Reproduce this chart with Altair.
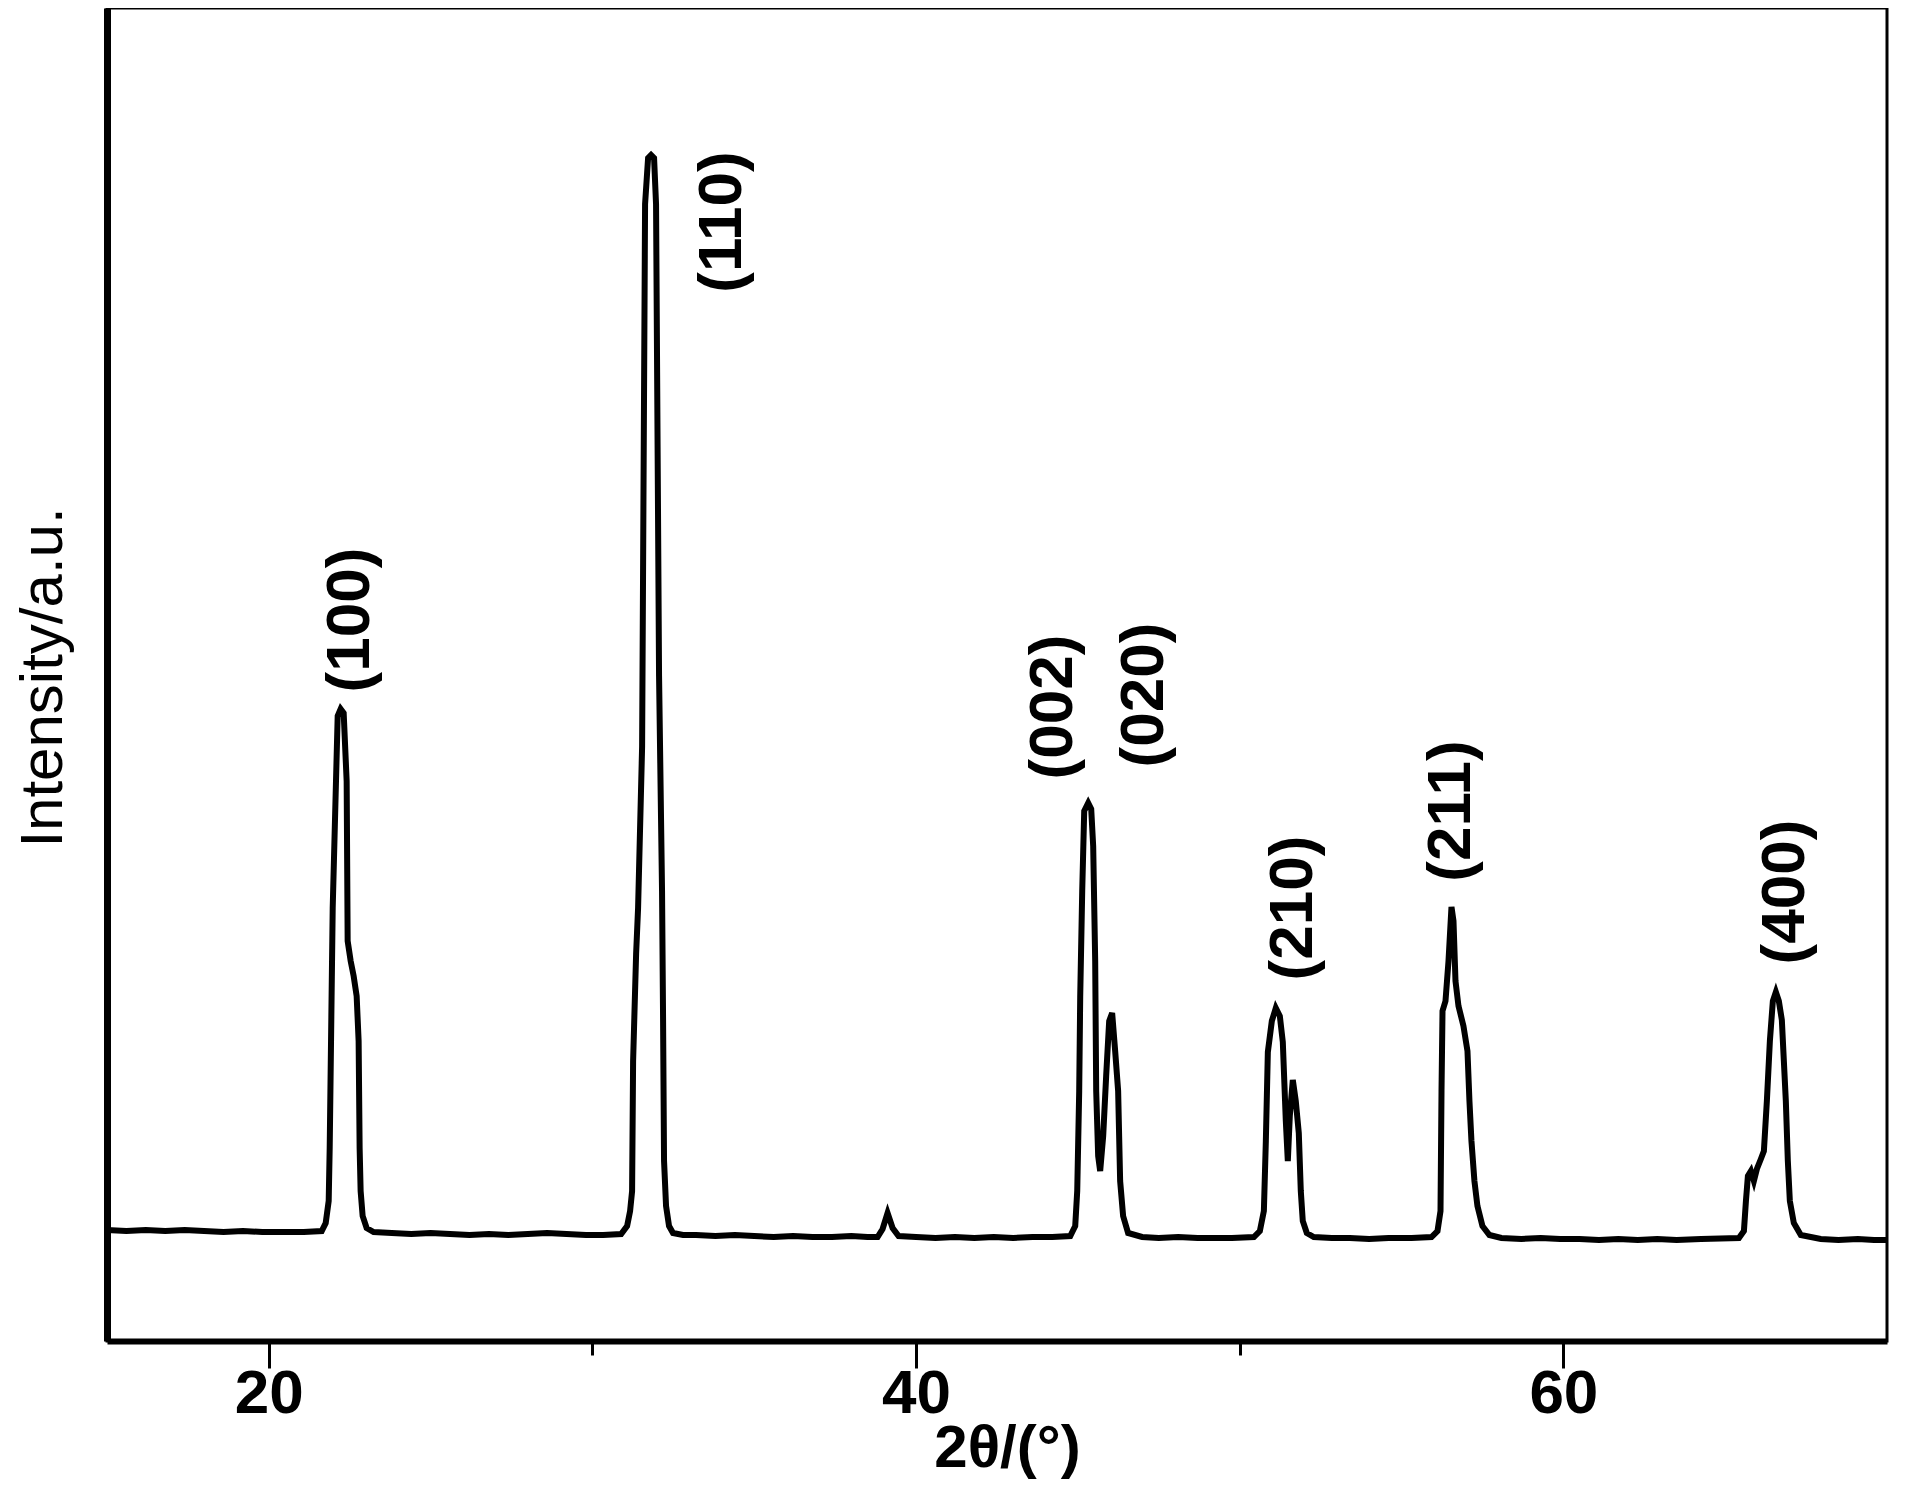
import altair as alt
import pandas as pd

two_theta = [
    15.00, 15.60, 16.20, 16.80, 17.40, 18.00, 18.60, 19.20, 19.80, 20.40, 21.079,
    21.634, 21.758, 21.850, 21.881, 21.974, 22.128, 22.220, 22.313, 22.405, 22.436,
    22.529, 22.621, 22.714, 22.775, 22.806, 22.837, 22.899, 23.022, 23.238,
    23.80, 24.40, 25.00, 25.60, 26.20, 26.80, 27.40, 28.00, 28.60, 29.20, 29.80, 30.331,
    30.886, 31.071, 31.163, 31.225, 31.256, 31.349, 31.410, 31.534, 31.626, 31.719,
    31.811, 31.904, 31.965, 32.058, 32.150, 32.181, 32.212, 32.274, 32.366, 32.489, 32.798,
    33.20, 33.80, 34.40, 35.00, 35.60, 36.20, 36.80, 37.40, 38.00, 38.50, 38.811,
    38.965, 39.119, 39.274, 39.459,
    40.00, 40.60, 41.20, 41.80, 42.40, 43.00, 43.60, 44.208,
    44.763, 44.917, 44.979, 45.040, 45.071, 45.133, 45.195, 45.318, 45.411, 45.472,
    45.534, 45.565, 45.626, 45.688, 45.781, 45.873, 45.966, 46.058, 46.151, 46.243,
    46.305, 46.397, 46.551, 46.983,
    47.50, 48.10, 48.70, 49.30, 49.759,
    50.437, 50.622, 50.746, 50.807, 50.869, 50.992, 51.115, 51.239, 51.331, 51.424,
    51.486, 51.547, 51.640, 51.732, 51.825, 51.887, 51.948, 52.072, 52.288, 52.843,
    53.40, 54.00, 54.60, 55.310,
    55.926, 56.111, 56.204, 56.235, 56.266, 56.358, 56.451, 56.543, 56.605, 56.667,
    56.759, 56.913, 57.037, 57.098, 57.160, 57.252, 57.345, 57.499, 57.715, 58.085,
    58.70, 59.30, 59.90, 60.50, 61.10, 61.70, 62.30, 62.90, 63.50, 64.253,
    65.425, 65.579, 65.641, 65.702, 65.795, 65.887, 65.980, 66.103, 66.196, 66.288,
    66.381, 66.473, 66.566, 66.658, 66.751, 66.813, 66.874, 66.936, 66.998, 67.121,
    67.337, 67.953,
    68.50, 69.10, 69.60, 70.00,
]
intensity = [
    111, 110, 111, 110, 111, 110, 109, 110, 109, 109, 109,
    110, 118, 140, 193, 433, 625, 632, 628, 560, 400,
    380, 365, 345, 300, 193, 150, 125, 113, 109,
    108, 107, 108, 107, 106, 107, 106, 107, 108, 107, 106, 106,
    107, 115, 130, 150, 280, 387, 433, 594, 1137, 1183,
    1186, 1183, 1137, 665, 450, 326, 180, 135, 115, 108, 106,
    106, 105, 106, 105, 104, 105, 104, 104, 105, 104, 104,
    112, 128, 113, 105,
    104, 103, 104, 103, 104, 103, 104, 104,
    105, 115, 150, 250, 344, 450, 530, 538, 532, 495,
    380, 250, 185, 170, 205, 265, 320, 328, 290, 250,
    160, 125, 108, 104,
    103, 104, 103, 103, 103,
    104, 110, 130, 200, 289, 320, 333, 325, 299, 220,
    180, 225, 261, 240, 208, 150, 120, 108, 104, 103,
    103, 102, 103, 103,
    104, 110, 130, 250, 330, 340, 380, 434, 420, 360,
    335, 315, 290, 240, 200, 160, 135, 115, 106, 103,
    102, 103, 102, 102, 101, 102, 101, 102, 101, 102,
    103, 110, 140, 165, 170, 160, 172, 182, 190, 240,
    300, 340, 349, 340, 321, 280, 240, 180, 140, 118,
    106, 102,
    101, 102, 101, 101,
]

peak_labels = ["(100)", "(110)", "(002)", "(020)", "(210)", "(211)", "(400)"]
label_theta = [22.51, 34.00, 44.24, 47.05, 51.64, 56.54, 66.84]
label_intensity = [721, 1119, 634, 646, 433, 530, 449]

major_ticks = [20, 40, 60]
minor_ticks = [30, 50]

df = pd.DataFrame({"two_theta": two_theta, "intensity": intensity})
labels_df = pd.DataFrame({"label": peak_labels, "two_theta": label_theta,
                          "intensity": label_intensity})

FONT = "Liberation Sans"
x_scale = alt.Scale(domain=[15, 70], nice=False, zero=False)
y_scale = alt.Scale(domain=[0, 1333], nice=False, zero=False)

line = alt.Chart(df).mark_line(color="black", strokeWidth=6).encode(
    x=alt.X("two_theta:Q", scale=x_scale,
            axis=alt.Axis(values=major_ticks, orient="bottom", grid=False,
                          domainColor="black", domainWidth=6,
                          tickColor="black", tickWidth=3, tickSize=27,
                          labelFont=FONT, labelFontSize=62, labelFontWeight="bold",
                          labelColor="black", labelPadding=-5,
                          title="2θ/(°)", titleFont=FONT, titleFontSize=60,
                          titleFontWeight="bold", titleColor="black",
                          titleBaseline="top", titleY=78, titleX=900)),
    y=alt.Y("intensity:Q", scale=y_scale,
            axis=alt.Axis(orient="left", labels=False, ticks=False, grid=False,
                          domainColor="black", domainWidth=7,
                          title="Intensity/a.u.", titleFont=FONT, titleFontSize=60,
                          titleFontWeight="normal", titleColor="black",
                          titleAngle=270, titleBaseline="top", titleAlign="center",
                          titleX=-93, titleY=669)),
)

text = alt.Chart(labels_df).mark_text(
    angle=270, align="center", baseline="middle", font=FONT, fontSize=62,
    fontWeight="bold", color="black",
).encode(
    x=alt.X("two_theta:Q", scale=x_scale,
            axis=alt.Axis(values=minor_ticks, orient="bottom", grid=False,
                          labels=False, domain=False, tickColor="black",
                          tickWidth=3, tickSize=14, title="")),
    y=alt.Y("intensity:Q", scale=y_scale, axis=None),
    text="label:N",
)

chart = alt.layer(line, text).resolve_axis(x="independent", y="independent").properties(
    width=1780, height=1333,
    autosize=alt.AutoSizeParams(type="none"),
    padding={"left": 99, "top": 0, "right": 10, "bottom": 155},
    background="white",
).configure_view(stroke="black", strokeWidth=3)

chart.save("out.html", embed_options={"renderer": "svg", "actions": False})
